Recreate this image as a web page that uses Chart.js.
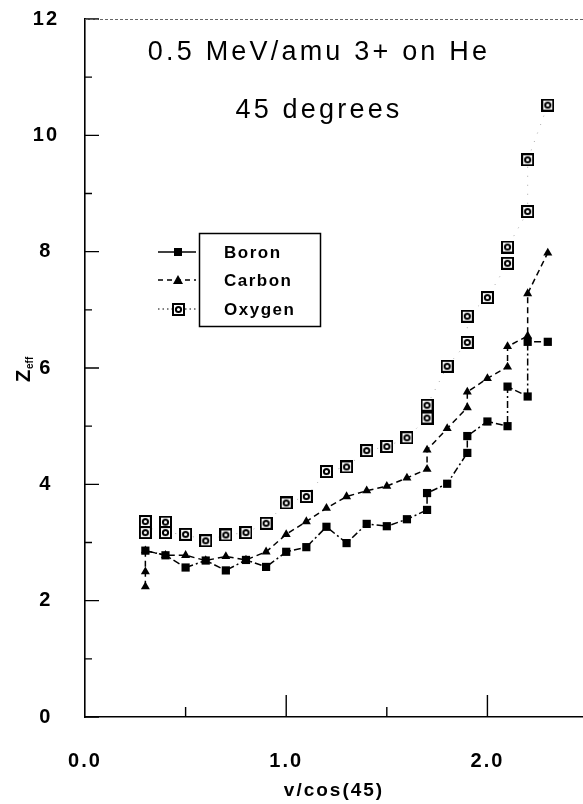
<!DOCTYPE html>
<html>
<head>
<meta charset="utf-8">
<script src="https://cdn.jsdelivr.net/npm/chart.js@4.4.0/dist/chart.umd.min.js"></script>
<style>
    html, body { margin: 0; padding: 0; background: #fff; overflow: hidden; }
    #wrap { width: 583px; height: 804px; }
    canvas { display: block; }
</style>
</head>
<body>
<div id="wrap"><canvas id="chart" width="583" height="804"></canvas></div>
<script>
// measured Z_eff vs v/cos(45) for the three projectiles
const boronX = [0.3, 0.4, 0.5, 0.6, 0.7, 0.8, 0.9, 1.0, 1.1, 1.2, 1.3, 1.4, 1.5, 1.6, 1.7, 1.7, 1.8, 1.9, 1.9, 2.0, 2.1, 2.1, 2.2, 2.2, 2.3];
const boronZ = [2.86, 2.78, 2.57, 2.69, 2.52, 2.70, 2.58, 2.84, 2.92, 3.27, 2.99, 3.32, 3.28, 3.40, 3.56, 3.85, 4.01, 4.54, 4.83, 5.08, 5.00, 5.68, 5.51, 6.45, 6.45];

const carbonX = [0.3, 0.3, 0.3, 0.4, 0.5, 0.6, 0.7, 0.8, 0.9, 1.0, 1.1, 1.2, 1.3, 1.4, 1.5, 1.6, 1.7, 1.7, 1.8, 1.9, 1.9, 2.0, 2.1, 2.1, 2.2, 2.2, 2.3];
const carbonZ = [2.24, 2.50, 2.86, 2.78, 2.78, 2.69, 2.76, 2.70, 2.84, 3.14, 3.36, 3.59, 3.79, 3.89, 3.97, 4.11, 4.26, 4.59, 4.96, 5.32, 5.59, 5.82, 6.02, 6.37, 6.55, 7.28, 7.98];

const oxygenX = [0.3, 0.3, 0.4, 0.4, 0.5, 0.6, 0.7, 0.8, 0.9, 1.0, 1.1, 1.2, 1.3, 1.4, 1.5, 1.6, 1.7, 1.7, 1.8, 1.9, 1.9, 2.0, 2.1, 2.1, 2.2, 2.2, 2.3];
const oxygenZ = [3.36, 3.17, 3.35, 3.17, 3.14, 3.03, 3.13, 3.17, 3.33, 3.68, 3.79, 4.22, 4.30, 4.58, 4.65, 4.80, 5.14, 5.36, 6.03, 6.44, 6.89, 7.21, 7.80, 8.08, 8.69, 9.58, 10.52];

const seriesNames = ["Boron", "Carbon", "Oxygen"];
const titleLines = ["0.5 MeV/amu 3+ on He", "45 degrees"];
const xAxisTitle = "v/cos(45)";

const pts = (xs, ys) => xs.map((x, i) => ({ x: x, y: ys[i] }));

// boxed dot used for the oxygen points
function boxedDot(size) {
    const c = document.createElement("canvas");
    c.width = size; c.height = size;
    const g = c.getContext("2d");
    g.fillStyle = "#fff";
    g.fillRect(0, 0, size, size);
    g.fillStyle = "#000";
    g.fillRect(0, 0, size, 2);
    g.fillRect(0, size - 2, size, 2);
    g.fillRect(0, 0, 2, size);
    g.fillRect(size - 2, 0, 2, size);
    g.beginPath();
    g.arc(size / 2, size / 2, 2.6, 0, Math.PI * 2);
    g.strokeStyle = "#000";
    g.lineWidth = 2;
    g.stroke();
    return c;
}
const oxyMarker = boxedDot(13);

const frame = {
    id: "frame",
    // let the plot run all the way to the right edge of the canvas
    afterLayout(chart) {
        const a = chart.chartArea;
        const x = chart.scales.x;
        if (a.right < chart.width) {
            a.right = chart.width;
            a.width = a.right - a.left;
            x.right = chart.width;
            x.width = x.right - x.left;
            x.configure();
        }
    },
    beforeDraw(chart) {
        chart.ctx.letterSpacing = "2px";
    },
    beforeDatasetsDraw(chart) {
        const { ctx, chartArea: a, scales: { x, y } } = chart;
        ctx.save();
        ctx.strokeStyle = "#000";
        ctx.lineWidth = 1.4;
        ctx.beginPath();
        // inward ticks on the left axis
        const yt = y.ticks.map(t => t.value);
        yt.forEach((v, i) => {
            const py = y.getPixelForValue(v);
            ctx.moveTo(a.left, py); ctx.lineTo(a.left + 14, py);
            if (i < yt.length - 1) {
                const pm = y.getPixelForValue((v + yt[i + 1]) / 2);
                ctx.moveTo(a.left, pm); ctx.lineTo(a.left + 7, pm);
            }
        });
        // inward ticks on the bottom axis
        const xt = x.ticks.map(t => t.value);
        xt.forEach(v => {
            const px = x.getPixelForValue(v);
            if (v > x.min) { ctx.moveTo(px, a.bottom); ctx.lineTo(px, a.bottom - 22); }
            const mid = v + 0.5;
            if (mid < x.max) {
                const pm = x.getPixelForValue(mid);
                ctx.moveTo(pm, a.bottom); ctx.lineTo(pm, a.bottom - 10);
            }
        });
        ctx.stroke();
        // faint top border
        ctx.strokeStyle = "#666";
        ctx.lineWidth = 1;
        ctx.setLineDash([3, 2]);
        ctx.beginPath();
        ctx.moveTo(a.left, a.top + 0.5); ctx.lineTo(a.right, a.top + 0.5);
        ctx.stroke();
        ctx.restore();
    },
    afterDraw(chart) {
        const ctx = chart.ctx;
        ctx.save();
        ctx.fillStyle = "#000";
        // plot title
        ctx.letterSpacing = "3.2px";
        ctx.font = "27px 'Liberation Sans', Arial, sans-serif";
        ctx.textAlign = "center";
        ctx.textBaseline = "middle";
        ctx.fillText(titleLines[0], 319, 53);
        ctx.fillText(titleLines[1], 319, 111);

        // y axis title Z_eff
        ctx.save();
        ctx.translate(24, 372);
        ctx.rotate(-Math.PI / 2);
        ctx.letterSpacing = "0px";
        ctx.textAlign = "left";
        ctx.font = "bold 20px 'Liberation Sans', Arial, sans-serif";
        ctx.fillText("Z", -10, 0);
        ctx.font = "bold 10px 'Liberation Sans', Arial, sans-serif";
        ctx.fillText("eff", 3, 6);
        ctx.restore();

        // legend box
        ctx.strokeStyle = "#000";
        ctx.lineWidth = 1.5;
        ctx.strokeRect(199.5, 233.5, 121, 93);
        const rows = [252, 280, 309];
        const dashes = [[], [5, 4], [1.5, 3]];
        ctx.font = "bold 17px 'Liberation Sans', Arial, sans-serif";
        ctx.letterSpacing = "1.5px";
        ctx.textAlign = "left";
        rows.forEach((ry, i) => {
            ctx.save();
            ctx.setLineDash(dashes[i]);
            ctx.lineWidth = i === 2 ? 1 : 1.5;
            ctx.beginPath();
            ctx.moveTo(158, ry); ctx.lineTo(196, ry);
            ctx.stroke();
            ctx.restore();
            if (i === 0) {
                ctx.fillRect(174, ry - 4, 8, 8);
            } else if (i === 1) {
                ctx.beginPath();
                ctx.moveTo(178, ry - 5); ctx.lineTo(183, ry + 4); ctx.lineTo(173, ry + 4);
                ctx.closePath(); ctx.fill();
            } else {
                ctx.drawImage(oxyMarker, 172, ry - 6);
            }
            ctx.fillText(seriesNames[i], 224, ry + 1);
        });
        ctx.restore();
    }
};

const tickFont = { family: "'Liberation Sans', Arial, sans-serif", size: 20, weight: "bold" };

new Chart(document.getElementById("chart"), {
    type: "scatter",
    data: {
        datasets: [
            {
                label: seriesNames[0],
                data: pts(boronX, boronZ),
                showLine: true,
                borderColor: "#000",
                backgroundColor: "#000",
                borderWidth: 1.5,
                borderDash: [7, 3, 2, 3],
                pointStyle: "rect",
                pointRadius: 5.8,
                pointBorderWidth: 0
            },
            {
                label: seriesNames[1],
                data: pts(carbonX, carbonZ),
                showLine: true,
                borderColor: "#000",
                backgroundColor: "#000",
                borderWidth: 1.5,
                borderDash: [6, 4],
                pointStyle: "triangle",
                pointRadius: 5.2,
                pointBorderWidth: 0
            },
            {
                label: seriesNames[2],
                data: pts(oxygenX, oxygenZ),
                showLine: true,
                borderColor: "#aaa",
                borderWidth: 1,
                borderDash: [1, 8],
                pointStyle: oxyMarker
            }
        ]
    },
    options: {
        responsive: false,
        animation: false,
        events: [],
        layout: { padding: { top: 19, right: 0, left: 0, bottom: 0 } },
        plugins: {
            legend: { display: false },
            tooltip: { enabled: false }
        },
        scales: {
            x: {
                type: "linear",
                min: 0,
                max: 2.475,
                afterFit(s) { s.height = 87; },
                // invisible tick length keeps the labels clear of the axis
                grid: { display: false, drawTicks: true, tickLength: 32 },
                border: { display: true, color: "#000", width: 1.6 },
                ticks: {
                    stepSize: 1,
                    includeBounds: false,
                    padding: 0,
                    color: "#000",
                    font: tickFont,
                    callback: v => v.toFixed(1)
                },
                title: {
                    display: true,
                    text: xAxisTitle,
                    color: "#000",
                    font: { family: "'Liberation Sans', Arial, sans-serif", size: 19, weight: "bold" },
                    padding: { top: 0, bottom: 2 }
                }
            },
            y: {
                min: 0,
                max: 12,
                afterFit(s) { s.width = 85; },
                grid: { display: false, drawTicks: true, tickLength: 21 },
                border: { display: true, color: "#000", width: 1.6 },
                ticks: {
                    stepSize: 2,
                    padding: 7,
                    crossAlign: "center",
                    color: "#000",
                    font: tickFont
                }
            }
        }
    },
    plugins: [frame]
});
</script>
</body>
</html>
